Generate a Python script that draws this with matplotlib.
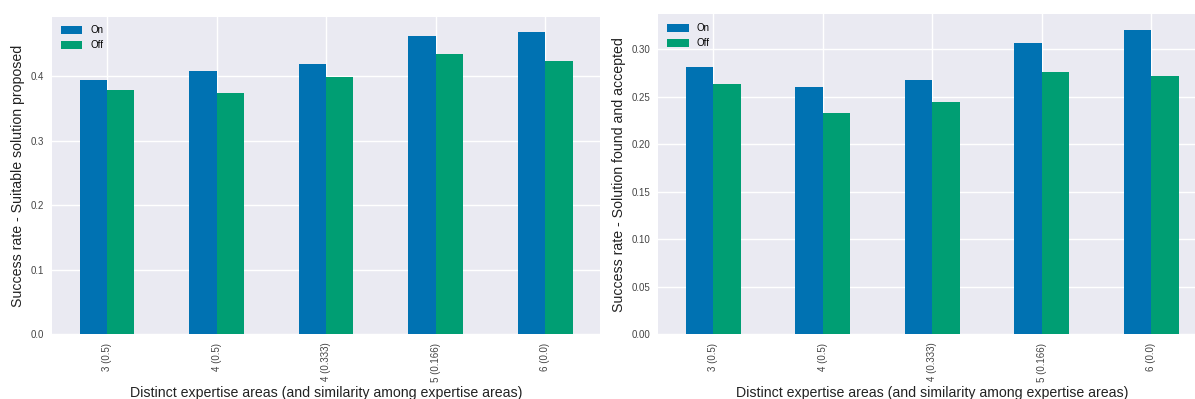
import numpy as np
import matplotlib
matplotlib.use("Agg")
import matplotlib.pyplot as plt

# ---- data ----
categories = ["3 (0.5)", "4 (0.5)", "4 (0.333)", "5 (0.166)", "6 (0.0)"]
proposed_on = [0.394, 0.408, 0.419, 0.463, 0.469]
proposed_off = [0.379, 0.374, 0.399, 0.434, 0.423]
accepted_on = [0.281, 0.260, 0.268, 0.307, 0.3207]
accepted_off = [0.2635, 0.2327, 0.244, 0.2755, 0.2713]
series_names = ["On", "Off"]

plt.rcParams["font.family"] = ["Liberation Sans", "DejaVu Sans"]
colors = ["#0072B2", "#009E73"]

fig = plt.figure(figsize=(11.95, 3.99), dpi=100)
# right panel runs a little past the figure edge, as in the reference
ax1 = fig.add_axes([0.0438, 0.1622, 0.4582, 0.796])
ax2 = fig.add_axes([0.5510, 0.1622, 0.4582, 0.802])


def draw(ax, on, off, ylabel, yticks, fmt):
    x = np.arange(len(categories))
    w = 0.25
    ax.set_facecolor("#EAEAF2")
    ax.bar(x - w / 2, on, w, color=colors[0], label=series_names[0], zorder=2)
    ax.bar(x + w / 2, off, w, color=colors[1], label=series_names[1], zorder=2)
    ax.set_xticks(x)
    ax.set_xticklabels(categories, rotation=90, fontsize=7, color="#444444")
    ax.set_yticks(yticks)
    ax.set_yticklabels([fmt.format(v) for v in yticks], fontsize=7, color="#444444")
    ax.set_xlim(-0.5, len(categories) - 0.5)
    ax.set_ylim(0, max(on + off) * 1.05)
    ax.grid(True, color="white", lw=1.0, zorder=0)
    ax.set_axisbelow(True)
    for s in ax.spines.values():
        s.set_visible(False)
    ax.tick_params(length=0, pad=6)
    ax.set_ylabel(ylabel, fontsize=10.2, color="#222222")
    ax.set_xlabel("Distinct expertise areas (and similarity among expertise areas)",
                  fontsize=10.2, color="#222222", labelpad=3)
    ax.legend(loc="upper left", frameon=False, fontsize=7, handlelength=2.2,
              handleheight=0.9)


draw(ax1, proposed_on, proposed_off, "Success rate - Suitable solution proposed",
     [0.0, 0.1, 0.2, 0.3, 0.4], "{:.1f}")
draw(ax2, accepted_on, accepted_off, "Success rate - Solution found and accepted",
     [0.0, 0.05, 0.10, 0.15, 0.20, 0.25, 0.30], "{:.2f}")

fig.savefig("out.png", dpi=100)
